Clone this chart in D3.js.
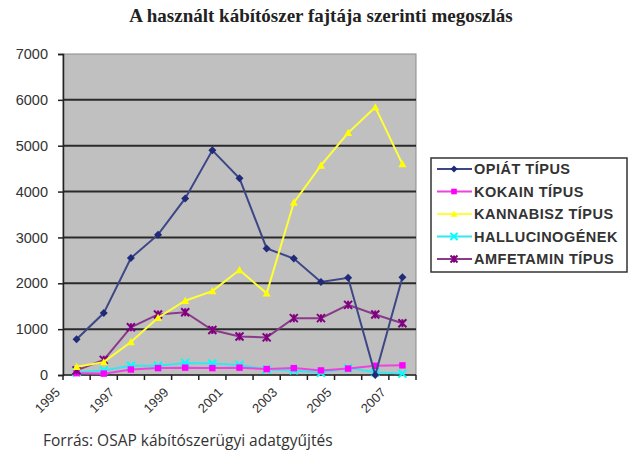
<!DOCTYPE html>
<html>
<head>
<meta charset="utf-8">
<script src="https://cdn.jsdelivr.net/npm/d3@7"></script>
<style>
  body { margin: 0; background: #fff; }
  svg { display: block; }
</style>
</head>
<body>
<svg id="chart" width="632" height="458"></svg>
<script>
// ====== data =======
var years = ['1995', '1996', '1997', '1998', '1999', '2000', '2001', '2002', '2003', '2004', '2005', '2006', '2007']
var yearLabels = ['1995', '1997', '1999', '2001', '2003', '2005', '2007']
var yTicks = [0, 1000, 2000, 3000, 4000, 5000, 6000, 7000]

var opiat = [780, 1350, 2550, 3060, 3850, 4900, 4290, 2760, 2540, 2030, 2120, 0, 2130]
var kokain = [40, 30, 120, 150, 160, 150, 160, 130, 150, 100, 140, 200, 210]
var kannabisz = [180, 280, 720, 1250, 1620, 1830, 2290, 1780, 3760, 4570, 5280, 5840, 4600]
var hallucinogenek = [60, 100, 200, 200, 260, 250, 220, 120, 100, 50, 150, 60, 30]
var amfetamin = [100, 330, 1040, 1320, 1370, 980, 840, 820, 1240, 1240, 1530, 1320, 1130]

var seriesNames = ['OPIÁT TÍPUS', 'KOKAIN TÍPUS', 'KANNABISZ TÍPUS', 'HALLUCINOGÉNEK', 'AMFETAMIN TÍPUS']
var seriesValues = [opiat, kokain, kannabisz, hallucinogenek, amfetamin]
var seriesColors = ['#1f2a78', '#ff00ff', '#ffff00', '#00ffff', '#800080']
var lineColors = ['#3d4686', '#ee44dd', '#ffff33', '#33e8f0', '#8a3a8a']
var markerTypes = ['diamond', 'square', 'triangle', 'cross', 'star']

var svg = d3.select('#chart')

// ====== layout =====
var plot = { left: 63, right: 416, top: 54, bottom: 375 }

var x = d3.scaleBand()
  .domain(years)
  .range([plot.left, plot.right])
  .padding(0)

var y = d3.scaleLinear()
  .domain([0, 7000])
  .range([plot.bottom, plot.top])

// title
svg.append('text')
  .attr('x', 321)
  .attr('y', 22)
  .attr('text-anchor', 'middle')
  .attr('font-family', 'Liberation Serif, DejaVu Serif, serif')
  .attr('font-weight', 'bold')
  .attr('font-size', '19px')
  .attr('fill', '#222')
  .text('A használt kábítószer fajtája szerinti megoszlás')

// plot background
svg.append('rect')
  .attr('x', plot.left)
  .attr('y', plot.top)
  .attr('width', plot.right - plot.left)
  .attr('height', plot.bottom - plot.top)
  .attr('fill', '#c0c0c0')
  .attr('stroke', '#8a8a8a')
  .attr('stroke-width', 1)

// grid lines
svg.append('g')
  .selectAll('line')
  .data(yTicks.filter(function (d) { return d > 0 && d < 7000 }))
  .enter()
  .append('line')
  .attr('x1', plot.left)
  .attr('x2', plot.right)
  .attr('y1', function (d) { return y(d) })
  .attr('y2', function (d) { return y(d) })
  .attr('stroke', '#2a2a2a')
  .attr('stroke-width', 2)

// y axis
var yAxis = d3.axisLeft(y)
  .tickValues(yTicks)
  .tickSize(5)
  .tickPadding(10)
  .tickFormat(d3.format('d'))

var gy = svg.append('g')
  .attr('transform', 'translate(' + plot.left + ',0)')
  .call(yAxis)
gy.select('.domain').attr('stroke', '#222').attr('stroke-width', 1.5)
gy.selectAll('.tick line').attr('stroke', '#222').attr('stroke-width', 1.5)
gy.selectAll('text')
  .attr('font-family', 'Liberation Sans, Arial, sans-serif')
  .attr('font-size', '14.5px')
  .attr('fill', '#333')

// x axis line + ticks between categories
svg.append('line')
  .attr('x1', plot.left)
  .attr('x2', plot.right)
  .attr('y1', plot.bottom)
  .attr('y2', plot.bottom)
  .attr('stroke', '#222')
  .attr('stroke-width', 1.5)

var boundaries = years.map(function (d) { return x(d) }).concat([x(years[years.length - 1]) + x.bandwidth()])
svg.append('g')
  .selectAll('line')
  .data(boundaries)
  .enter()
  .append('line')
  .attr('x1', function (d) { return d })
  .attr('x2', function (d) { return d })
  .attr('y1', plot.bottom)
  .attr('y2', plot.bottom + 5)
  .attr('stroke', '#222')
  .attr('stroke-width', 1.5)

// x labels, every second year, rotated
svg.append('g')
  .selectAll('text')
  .data(yearLabels)
  .enter()
  .append('text')
  .attr('transform', function (d) {
    var cx = x(d) + x.bandwidth() / 2 - 19
    return 'translate(' + cx + ',' + (plot.bottom + 15) + ') rotate(-45)'
  })
  .attr('text-anchor', 'end')
  .attr('dy', '0.35em')
  .attr('font-family', 'Liberation Sans, Arial, sans-serif')
  .attr('font-size', '13px')
  .attr('fill', '#333')
  .text(function (d) { return d })

// ====== lines and markers =====
var line = d3.line()
  .x(function (d, i) { return x(years[i]) + x.bandwidth() / 2 })
  .y(function (d) { return y(d) })

function drawMarker (g, type, color, size) {
  var s = size
  if (type === 'diamond') {
    g.append('path').attr('d', 'M0,' + -s + 'L' + s + ',0L0,' + s + 'L' + -s + ',0Z').attr('fill', color)
  } else if (type === 'square') {
    g.append('rect').attr('x', -s * 0.8).attr('y', -s * 0.8).attr('width', s * 1.6).attr('height', s * 1.6).attr('fill', color)
  } else if (type === 'triangle') {
    g.append('path').attr('d', 'M0,' + -s + 'L' + s + ',' + s * 0.8 + 'L' + -s + ',' + s * 0.8 + 'Z').attr('fill', color)
  } else if (type === 'cross') {
    g.append('path').attr('d', 'M' + -s + ',' + -s + 'L' + s + ',' + s + 'M' + -s + ',' + s + 'L' + s + ',' + -s)
      .attr('stroke', color).attr('stroke-width', 2).attr('fill', 'none')
  } else if (type === 'star') {
    g.append('path').attr('d', 'M' + -s + ',' + -s + 'L' + s + ',' + s + 'M' + -s + ',' + s + 'L' + s + ',' + -s + 'M0,' + -s + 'L0,' + s)
      .attr('stroke', color).attr('stroke-width', 2).attr('fill', 'none')
  }
}

// draw in an order close to the reference (amfetamin under opiat, yellow above)
var drawOrder = [3, 1, 4, 0, 2]
drawOrder.forEach(function (si) {
  var vals = seriesValues[si]
  svg.append('path')
    .datum(vals)
    .attr('d', line)
    .attr('fill', 'none')
    .attr('stroke', lineColors[si])
    .attr('stroke-width', 2)

  svg.append('g')
    .selectAll('g')
    .data(vals)
    .enter()
    .append('g')
    .attr('transform', function (d, i) {
      return 'translate(' + [x(years[i]) + x.bandwidth() / 2, y(d)] + ')'
    })
    .each(function () {
      drawMarker(d3.select(this), markerTypes[si], seriesColors[si], 4)
    })
})

// ====== legend =====
var legend = svg.append('g').attr('transform', 'translate(431,158)')
legend.append('rect')
  .attr('width', 196)
  .attr('height', 114)
  .attr('fill', '#fff')
  .attr('stroke', '#333')
  .attr('stroke-width', 1.5)

var items = legend.selectAll('g.item')
  .data(seriesNames)
  .enter()
  .append('g')
  .attr('class', 'item')
  .attr('transform', function (d, i) { return 'translate(0,' + (11 + i * 22.5) + ')' })

items.append('line')
  .attr('x1', 6)
  .attr('x2', 41)
  .attr('stroke', function (d, i) { return lineColors[i] })
  .attr('stroke-width', 2)

items.append('g')
  .attr('transform', 'translate(23,0)')
  .each(function (d, i) {
    drawMarker(d3.select(this), markerTypes[i], seriesColors[i], 3.5)
  })

items.append('text')
  .attr('x', 43)
  .attr('dy', '0.36em')
  .attr('font-family', 'Liberation Sans, Arial, sans-serif')
  .attr('font-size', '14.5px')
  .attr('font-weight', 'bold')
  .attr('letter-spacing', '0.5px')
  .attr('fill', '#333')
  .text(function (d) { return d })

// source note
svg.append('text')
  .attr('x', 43)
  .attr('y', 446)
  .attr('font-family', 'Open Sans, Liberation Sans, sans-serif')
  .attr('font-size', '15.5px')
  .attr('fill', '#333')
  .text('Forrás: OSAP kábítószerügyi adatgyűjtés')
</script>
</body>
</html>
